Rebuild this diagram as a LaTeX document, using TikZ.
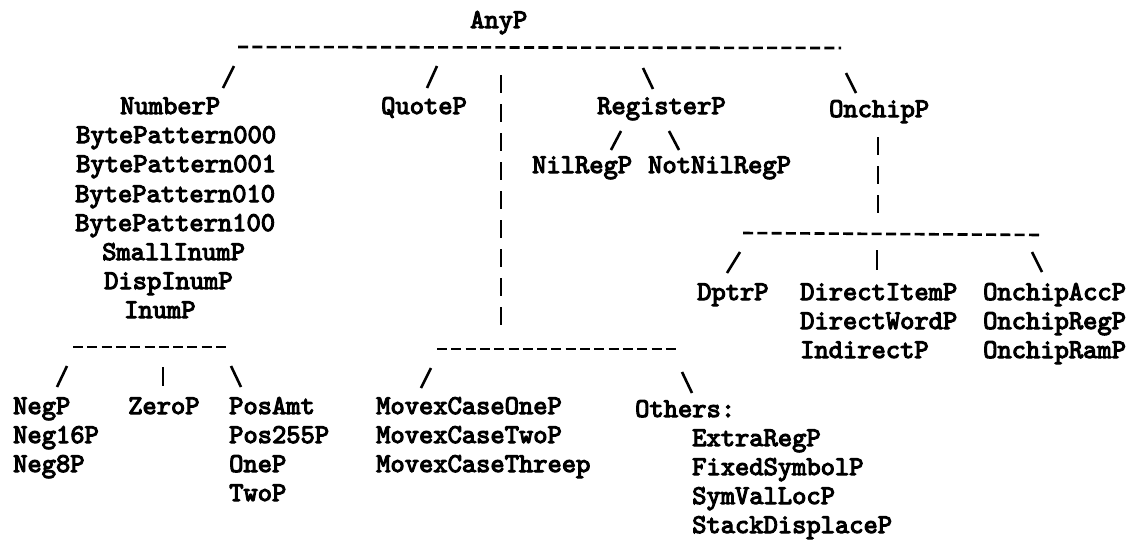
\documentclass[tikz,border=0pt]{standalone}
\usepackage{fontspec}
\newfontfamily\mono{lmmono10-regular.otf}[FakeBold=4]
\begin{document}
\begin{tikzpicture}[x=1pt,y=-1pt,
  lbl/.style={font=\mono\fontsize{27.2}{30}\selectfont, anchor=base west},
  tick/.style={line width=2.6pt},
  rule/.style={line width=2.6pt, dash pattern=on 10pt off 4.3pt},
  bars/.style={line width=2.6pt, dash pattern=on 18pt off 11pt}]
\tikzstyle{every node}+=[inner sep=0pt]
\useasboundingbox (0,0) rectangle (1138,555);
% root
\node [lbl] (AnyP) at (470,28) {AnyP};
\draw [rule] (238,47) -- (841,48);
\draw [tick] (223,88) -- (234,66);
\draw [tick] (427,88) -- (437,66);
\draw [tick] (643,68) -- (653,89);
\draw [tick] (846,73) -- (856,93);
\draw [bars] (501,75) -- (501,330);
% first level
\node [lbl] (NumberP) at (120,114) {NumberP};
\node [lbl] (BP000) at (76,143) {BytePattern000};
\node [lbl] (BP001) at (76,172) {BytePattern001};
\node [lbl] (BP010) at (75,202) {BytePattern010};
\node [lbl] (BP100) at (75,231) {BytePattern100};
\node [lbl] (SmallInumP) at (102,260) {SmallInumP};
\node [lbl] (DispInumP) at (104,289) {DispInumP};
\node [lbl] (InumP) at (124,318) {InumP};
\node [lbl] (QuoteP) at (381,114) {QuoteP};
\node [lbl] (RegisterP) at (597,114) {RegisterP};
\node [lbl] (OnchipP) at (829,117) {OnchipP};
% RegisterP
\draw [tick] (611,150) -- (621,131);
\draw [tick] (669,131) -- (679,150);
\node [lbl] (NilRegP) at (532,173) {NilRegP};
\node [lbl] (NotNilRegP) at (648,173) {NotNilRegP};
% OnchipP
\draw [bars] (878,137) -- (878,216);
\draw [rule] (743,233) -- (1040,235);
\draw [tick] (727,273) -- (740,252);
\draw [tick] (877,250) -- (877,270);
\draw [tick] (1032,252) -- (1042,272);
\node [lbl] (DptrP) at (697,300) {DptrP};
\node [lbl] (DirectItemP) at (800,300) {DirectItemP};
\node [lbl] (DirectWordP) at (800,329) {DirectWordP};
\node [lbl] (IndirectP) at (800,358) {IndirectP};
\node [lbl] (OnchipAccP) at (983,300) {OnchipAccP};
\node [lbl] (OnchipRegP) at (983,329) {OnchipRegP};
\node [lbl] (OnchipRamP) at (983,358) {OnchipRamP};
% InumP
\draw [rule] (73,347) -- (228,347);
\draw [tick] (57,387) -- (67,366);
\draw [tick] (163,367) -- (163,386);
\draw [tick] (231,366) -- (241,387);
\node [lbl] (NegP) at (13,414) {NegP};
\node [lbl] (Neg16P) at (13,443) {Neg16P};
\node [lbl] (Neg8P) at (13,472) {Neg8P};
\node [lbl] (ZeroP) at (128,414) {ZeroP};
\node [lbl] (PosAmt) at (229,414) {PosAmt};
\node [lbl] (Pos255P) at (229,443) {Pos255P};
\node [lbl] (OneP) at (229,472) {OneP};
\node [lbl] (TwoP) at (229,501) {TwoP};
% QuoteP
\draw [rule] (437,349) -- (677,349);
\draw [tick] (421,388) -- (431,368);
\draw [tick] (682,372) -- (692,393);
\node [lbl] (MovexOne) at (376,414) {MovexCaseOneP};
\node [lbl] (MovexTwo) at (376,443) {MovexCaseTwoP};
\node [lbl] (MovexThree) at (376,472) {MovexCaseThreep};
\node [lbl] (Others) at (635,417) {Others:};
\node [lbl] (ExtraRegP) at (692,446) {ExtraRegP};
\node [lbl] (FixedSymbolP) at (692,475) {FixedSymbolP};
\node [lbl] (SymValLocP) at (692,504) {SymValLocP};
\node [lbl] (StackDisplaceP) at (692,533) {StackDisplaceP};
\end{tikzpicture}
\end{document}
